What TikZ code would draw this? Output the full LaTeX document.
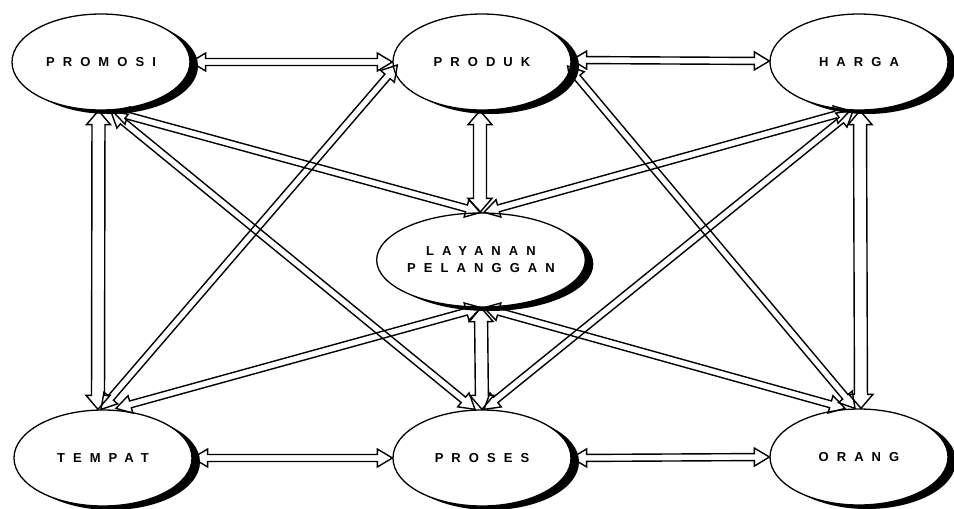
\documentclass[tikz,border=0pt]{standalone}
\usepackage{fontspec}
\newfontfamily\lblfont[LetterSpace=62]{Liberation Sans}
\usetikzlibrary{shapes.geometric,calc,shadows}
\tikzset{
  elli/.style={ellipse, draw, line width=1.3pt, fill=white,
    minimum width=178pt, minimum height=96pt, inner sep=0pt,
    font=\lblfont\bfseries\fontsize{13}{17}\selectfont, align=center,
    drop shadow={shadow xshift=8pt, shadow yshift=-4pt, fill=black, opacity=1}},
  connline/.style={draw, line width=1.4pt, line join=miter}
}
% #1 half shaft width, #2 half head width, #3 head length, #4 start, #5 end
\newcommand\bconn[5]{%
  \coordinate (s) at (#4); \coordinate (e) at (#5);
  \coordinate (a) at ($(s)!#3pt!(e)$); \coordinate (b) at ($(e)!#3pt!(s)$);
  \draw[connline] (s) -- ($(a)!#2pt!90:(e)$) -- ($(a)!#1pt!90:(e)$)
    -- ($(b)!#1pt!-90:(s)$) -- ($(b)!#2pt!-90:(s)$) -- (e)
    -- ($(b)!#2pt!90:(s)$) -- ($(b)!#1pt!90:(s)$)
    -- ($(a)!#1pt!-90:(e)$) -- ($(a)!#2pt!-90:(e)$) -- cycle;}
\newcommand\darrow[2]{\bconn{3.5}{9}{15}{#1}{#2}}
\newcommand\varrow[2]{\bconn{6.5}{12}{14}{#1}{#2}}
\begin{document}
\begin{tikzpicture}[x=1pt,y=-1pt]
\useasboundingbox (0,0) rectangle (954,509);
\node[elli] (promosi) at (101,62) {PROMOSI};
\node[elli] (produk) at (482,62) {PRODUK};
\node[elli] (harga) at (859,62) {HARGA};
\node[elli, minimum width=180pt, minimum height=94pt] (layanan) at (481,260) {LAYANAN\\PELANGGAN};
\node[elli] (tempat) at (103,458) {TEMPAT};
\node[elli] (proses) at (482,458) {PROSES};
\node[elli] (orang) at (859,457) {ORANG};
% horizontal
\darrow{promosi.east}{produk.west}
\darrow{$(produk.east)+(0,-2)$}{$(harga.west)+(0,-1)$}
\darrow{tempat.east}{proses.west}
\darrow{proses.east}{orang.west}
% vertical
\varrow{$(promosi.south)+(-2.5,0)$}{$(tempat.north)+(-5,0)$}
\varrow{$(harga.south)+(1,0)$}{$(orang.north)+(2,0)$}
\varrow{$(produk.south)+(-2,0)$}{$(layanan.north)+(-1,0)$}
\varrow{layanan.south}{proses.north}
% diagonals
\darrow{$(promosi.south)+(12,1)$}{layanan.north}
\darrow{$(promosi.south)+(10,1)$}{$(proses.north)+(-7,0)$}
\darrow{$(tempat.north)+(-2,0)$}{$(produk.west)+(5,3)$}
\darrow{$(tempat.north)+(13,-1)$}{layanan.south}
\darrow{$(harga.south)+(-9,0)$}{$(layanan.north)+(3,0)$}
\darrow{$(harga.south)+(-6,0)$}{$(proses.north)+(2,0)$}
\darrow{$(produk.east)+(-4,4)$}{$(orang.north)+(-4,0)$}
\darrow{$(orang.north)+(-14,0)$}{$(layanan.south)+(3,0)$}
\end{tikzpicture}
\end{document}
